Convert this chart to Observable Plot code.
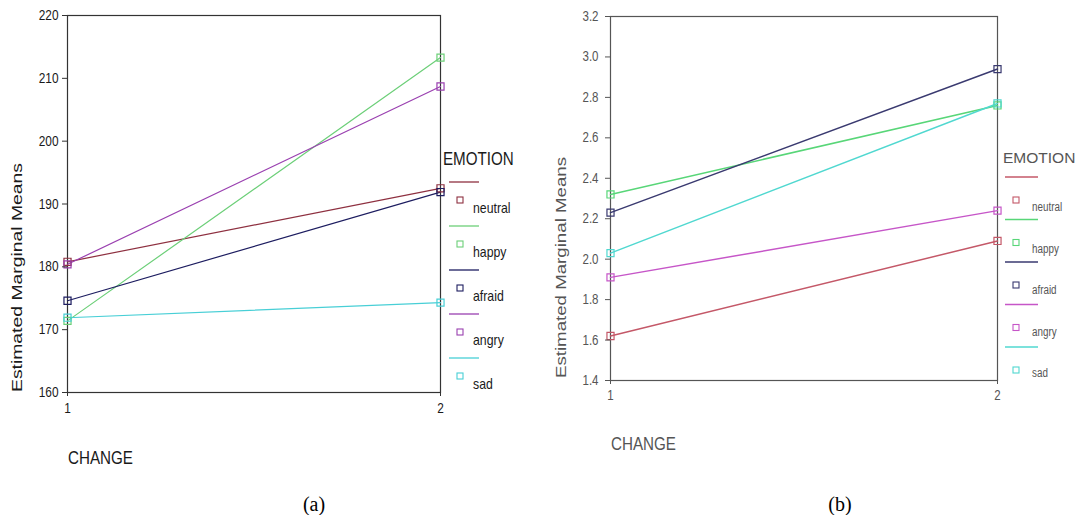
<!DOCTYPE html>
<html><head><meta charset="utf-8">
<script src="https://cdn.jsdelivr.net/npm/d3@7"></script>
<script src="https://cdn.jsdelivr.net/npm/@observablehq/plot@0.6"></script>
<style>
body{margin:0;background:#fff;}
#wrap{position:relative;width:1078px;height:515px;overflow:hidden;background:#fff;}
#wrap svg{position:absolute;top:0;}
.cap{position:absolute;font-family:"Liberation Serif","Times New Roman",serif;font-size:20px;color:#000;transform:translate(-50%,-50%);line-height:1;}
</style></head><body><div id="wrap"></div>
<script>
// ---- data ----
const emotions = ["neutral", "happy", "afraid", "angry", "sad"];
const changeLevels = [1, 2];
// panel (a)
const meansA1 = [180.8, 171.4, 174.6, 180.4, 171.9];
const meansA2 = [192.5, 213.3, 191.9, 208.7, 174.3];
const ticksA = [160, 170, 180, 190, 200, 210, 220];
// panel (b)
const meansB1 = [1.62, 2.32, 2.23, 1.91, 2.03];
const meansB2 = [2.09, 2.76, 2.94, 2.24, 2.77];
const ticksB = [1.4, 1.6, 1.8, 2.0, 2.2, 2.4, 2.6, 2.8, 3.0, 3.2];
const colorsA = ["#8e3040", "#6ccf78", "#1d1d60", "#9a40b0", "#48cfd6"];
const colorsB = ["#c45868", "#58d678", "#3a3a70", "#c656c8", "#50d8d0"];
const yLabel = "Estimated Marginal Means";
const xLabel = "CHANGE";
const legendTitle = "EMOTION";
const captions = ["(a)", "(b)"];

const SANS = '"Liberation Sans",Arial,sans-serif';
const SQUEEZE = 0.82;

function rows(m1, m2) {
  return emotions.flatMap((e, i) => [
    {emotion: e, change: changeLevels[0], mean: m1[i]},
    {emotion: e, change: changeLevels[1], mean: m2[i]}
  ]);
}

function chart(o) {
  const data = rows(o.m1, o.m2);
  const svg = Plot.plot({
    width: o.w, height: o.h,
    marginLeft: o.ml, marginRight: o.mr, marginTop: o.mt, marginBottom: o.mb,
    style: {fontFamily: SANS, color: o.text, background: "transparent"},
    x: {domain: [1, 2]},
    y: {domain: o.ydom},
    color: {domain: emotions, range: o.colors},
    marks: [
      Plot.frame({stroke: o.frame, strokeWidth: 1.2}),
      Plot.line(data, {x: "change", y: "mean", z: "emotion", stroke: "emotion", strokeWidth: o.lw}),
      Plot.dot(data, {x: "change", y: "mean", stroke: "emotion", symbol: "square", r: 4, fill: "none", strokeWidth: 1.2}),
      Plot.axisY({ticks: o.yticks, tickSize: 5, tickPadding: o.ypad, tickFormat: o.fmt, label: null, stroke: o.frame}),
      Plot.axisX({ticks: changeLevels, tickSize: 4, tickPadding: 6, tickFormat: d => String(d), label: null, stroke: o.frame})
    ]
  });
  svg.style.left = o.left + "px";
  const s = d3.select(svg);
  s.selectAll('g[aria-label$="tick label"]').attr("font-size", o.tickFs);
  s.selectAll('g[aria-label$="tick label"] text').style("font-size", o.tickFs + "px");
  // y label
  s.append("text")
    .attr("transform", `translate(${o.ylx},${o.yly}) rotate(-90)`)
    .attr("text-anchor", "start")
    .attr("font-family", SANS).attr("font-size", 15).attr("fill", o.text)
    .attr("textLength", o.ylen).attr("lengthAdjust", "spacingAndGlyphs")
    .text(yLabel);
  // x label
  s.append("text").attr("class", "sq").attr("x", o.ml + 1).attr("y", o.xly)
    .attr("text-anchor", "start")
    .attr("font-family", SANS).attr("font-size", 18.5).attr("fill", o.text)
    .text(xLabel);
  // legend
  const L = o.leg;
  const g = s.append("g").attr("font-family", SANS).attr("fill", o.text).attr("text-anchor", "start");
  g.append("text").attr("class", L.tsq ? "sq" : null).attr("x", L.tx).attr("y", L.ty).attr("font-size", L.tfs).text(legendTitle);
  emotions.forEach((e, i) => {
    const ly = L.ly + i * L.step;
    g.append("line").attr("x1", L.lx1).attr("x2", L.lx2).attr("y1", ly).attr("y2", ly)
      .attr("stroke", o.colors[i]).attr("stroke-width", 1.3);
    const sy = L.sy + i * L.step;
    g.append("rect").attr("x", L.sx - 3).attr("y", sy - 3).attr("width", 6).attr("height", 6)
      .attr("fill", "none").attr("stroke", o.colors[i]).attr("stroke-width", 1.1);
    g.append("text").attr("class", "sq").attr("x", L.labx).attr("y", L.laby + i * L.lstep).attr("font-size", L.fs).text(e);
  });
  return svg;
}

function squeeze(svg) {
  const sel = svg.querySelectorAll('text.sq, g[aria-label="y-axis tick label"] text, g[aria-label="x-axis tick label"] text');
  sel.forEach(t => {
    const len = t.getComputedTextLength();
    t.setAttribute("textLength", (len * SQUEEZE).toFixed(1));
    t.setAttribute("lengthAdjust", "spacingAndGlyphs");
  });
}

const wrap = document.getElementById("wrap");
const svgA = chart({
  left: 0, w: 540, h: 475, ml: 67, mr: 100, mt: 15, mb: 83,
  m1: meansA1, m2: meansA2, ydom: [160, 220], yticks: ticksA, fmt: d => String(d),
  colors: colorsA, text: "#1a1a1a", frame: "#333", lw: 1.2, ypad: 4, tickFs: 14.5,
  ylx: 22, yly: 392, ylen: 229, xly: 464,
  leg: {tx: 443, ty: 165, tfs: 18.5, tsq: true, lx1: 449, lx2: 479, ly: 182, sx: 460, sy: 200, step: 44,
        labx: 473, laby: 213, lstep: 44, fs: 15}
});
const svgB = chart({
  left: 540, w: 538, h: 475, ml: 70, mr: 81, mt: 16, mb: 95,
  m1: meansB1, m2: meansB2, ydom: [1.4, 3.2], yticks: ticksB, fmt: d3.format(".1f"),
  colors: colorsB, text: "#555", frame: "#555", lw: 1.5, ypad: 7, tickFs: 14,
  ylx: 26, yly: 378, ylen: 221, xly: 450,
  leg: {tx: 463, ty: 163, tfs: 15.5, tsq: false, lx1: 465, lx2: 498, ly: 177, sx: 476, sy: 200, step: 42.5,
        labx: 492, laby: 211, lstep: 41.5, fs: 12}
});
wrap.appendChild(svgA);
wrap.appendChild(svgB);
squeeze(svgA);
squeeze(svgB);
[[314, 504], [840, 504]].forEach(([x, y], i) => {
  const d = document.createElement("div");
  d.className = "cap"; d.style.left = x + "px"; d.style.top = y + "px";
  d.textContent = captions[i];
  wrap.appendChild(d);
});
</script></body></html>
